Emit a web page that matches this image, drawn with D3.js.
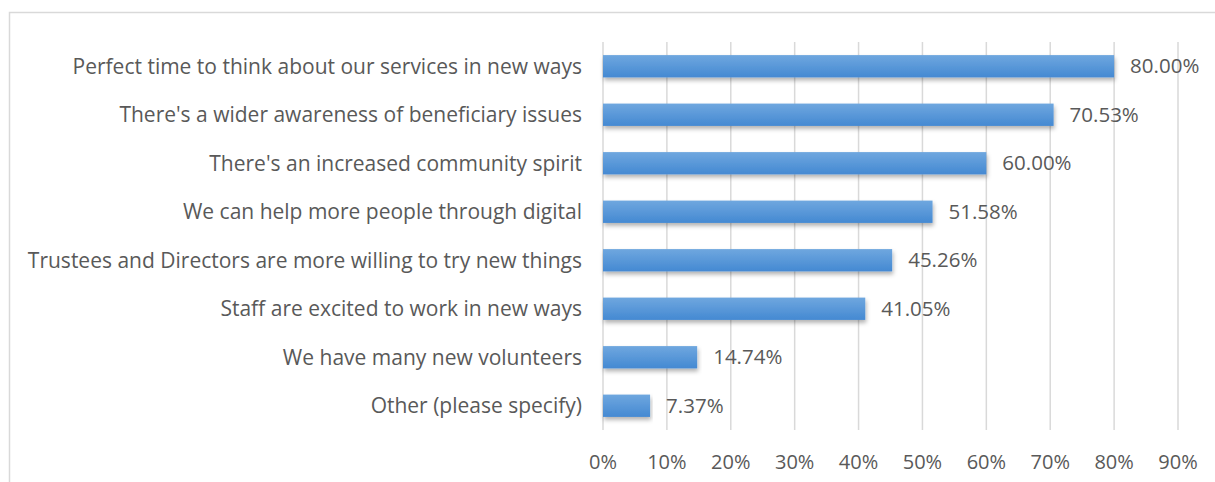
<!DOCTYPE html>
<html>
<head>
<meta charset="utf-8">
<script src="https://cdn.jsdelivr.net/npm/d3@7"></script>
<style>
  body { margin: 0; background: #fff; }
  svg text { font-family: "Open Sans", sans-serif; fill: #595959; }
</style>
</head>
<body>
<div id="chart"></div>
<script>
const categories = [
  'Perfect time to think about our services in new ways',
  "There's a wider awareness of beneficiary issues",
  "There's an increased community spirit",
  'We can help more people through digital',
  'Trustees and Directors are more willing to try new things',
  'Staff are excited to work in new ways',
  'We have many new volunteers',
  'Other (please specify)'
];
const values = [0.80, 0.7053, 0.60, 0.5158, 0.4526, 0.4105, 0.1474, 0.0737];
const tickValues = [0, 0.1, 0.2, 0.3, 0.4, 0.5, 0.6, 0.7, 0.8, 0.9];

const w = 1215, h = 482;
const data = categories.map((c, i) => ({ label: c, value: values[i] }));

const svg = d3.select('#chart')
  .append('svg')
  .attr('width', w)
  .attr('height', h);

// chart frame
svg.append('rect')
  .attr('x', 9.5)
  .attr('y', 12.5)
  .attr('width', 1230)
  .attr('height', 500)
  .attr('fill', 'none')
  .attr('stroke', '#d9d9d9')
  .attr('stroke-width', 1.5);

const defs = svg.append('defs');
const grad = defs.append('linearGradient')
  .attr('id', 'barGrad')
  .attr('x1', 0).attr('y1', 0).attr('x2', 0).attr('y2', 1);
grad.append('stop').attr('offset', '0%').attr('stop-color', '#6fa7df');
grad.append('stop').attr('offset', '100%').attr('stop-color', '#4489d2');

const shadow = defs.append('filter')
  .attr('id', 'shadow')
  .attr('x', '-5%').attr('y', '-20%')
  .attr('width', '110%').attr('height', '160%');
shadow.append('feDropShadow')
  .attr('dx', 1).attr('dy', 3)
  .attr('stdDeviation', 2)
  .attr('flood-color', '#000')
  .attr('flood-opacity', 0.3);

const xScale = d3.scaleLinear()
  .domain([0, 0.9])
  .range([603, 1178]);

const yScale = d3.scaleBand()
  .domain(categories)
  .range([42, 430])
  .paddingInner(0.54)
  .paddingOuter(0.27);

// gridlines
svg.append('g')
  .selectAll('line')
  .data(tickValues)
  .join('line')
  .attr('x1', d => xScale(d))
  .attr('x2', d => xScale(d))
  .attr('y1', 42)
  .attr('y2', 430)
  .attr('stroke', '#d9d9d9')
  .attr('stroke-width', 1.5);

// x tick labels
svg.append('g')
  .selectAll('text')
  .data(tickValues)
  .join('text')
  .attr('x', d => xScale(d))
  .attr('y', 469)
  .attr('text-anchor', 'middle')
  .style('font-size', '20px')
  .text(d => d3.format('.0%')(d));

// bars
const rows = svg.append('g')
  .selectAll('g')
  .data(data)
  .join('g');

rows.append('rect')
  .attr('x', xScale(0))
  .attr('y', d => yScale(d.label))
  .attr('width', d => xScale(d.value) - xScale(0))
  .attr('height', yScale.bandwidth())
  .attr('fill', 'url(#barGrad)')
  .attr('filter', 'url(#shadow)');

rows.append('text')
  .attr('x', d => xScale(d.value) + 16)
  .attr('y', d => yScale(d.label) + yScale.bandwidth() / 2)
  .attr('dy', '0.35em')
  .style('font-size', '20.5px')
  .text(d => d3.format('.2%')(d.value));

// category labels
rows.append('text')
  .attr('x', 582)
  .attr('y', d => yScale(d.label) + yScale.bandwidth() / 2)
  .attr('dy', '0.35em')
  .attr('text-anchor', 'end')
  .style('font-size', '21px')
  .text(d => d.label);
</script>
</body>
</html>
